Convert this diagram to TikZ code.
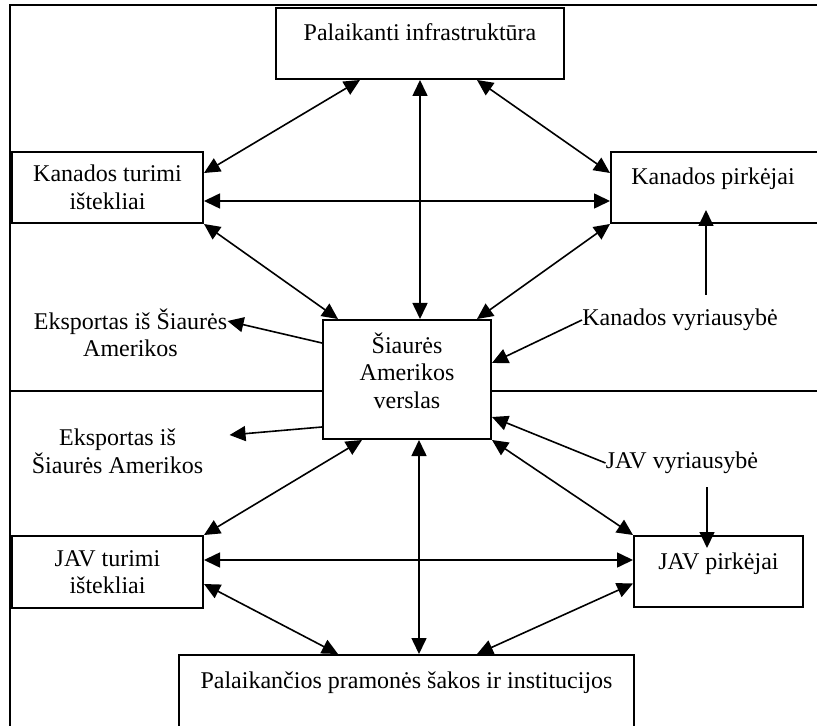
\documentclass[tikz,border=0pt]{standalone}
\usepackage{fontspec}
\setmainfont{Liberation Serif}
\usetikzlibrary{arrows.meta}

\begin{document}
\begin{tikzpicture}[
    x=0.5pt, y=-0.5pt,
    font=\fontsize{12}{13.8}\selectfont,
    kaste/.style={draw=black, line width=1pt, fill=white, inner sep=0pt, anchor=north west},
    vienaeil/.style={kaste, text height=16.5pt, text depth=19pt},
    tekstas/.style={inner sep=0pt, align=center},
    dvipus/.style={line width=0.8pt, {Triangle[length=8pt,width=7.5pt]}-{Triangle[length=8pt,width=7.5pt]}},
    vienpus/.style={line width=0.8pt, -{Triangle[length=8pt,width=7.5pt]}}
]
    \useasboundingbox (0,0) rectangle (817,726);
    \clip (0,0) rectangle (817,726);
    % remelis ir skiriamoji linija
    \draw[line width=0.7pt] (10,5) rectangle (840,760);
    \draw[line width=1pt] (10,391) -- (840,391);

    \node[vienaeil, minimum width=144pt] (infra) at (275,7) {Palaikanti infrastruktūra};
    \node[kaste, align=center, minimum width=95.5pt, minimum height=35.5pt] (kanturimi) at (11,151) {Kanados turimi\\ištekliai};
    \node[vienaeil, minimum width=110pt] (kanpirk) at (610,151) {Kanados pirkėjai\hspace*{8pt}};
    \node[vienaeil, text depth=43pt, minimum width=84pt] (verslas) at (322,319)
        {\begin{tabular}[t]{@{}c@{}}Šiaurės\\Amerikos\\verslas\end{tabular}};
    \node[kaste, align=center, minimum width=95.5pt, minimum height=36pt] (javturimi) at (11,535) {JAV turimi\\ištekliai};
    \node[vienaeil, minimum width=84.5pt] (javpirk) at (633,535) {JAV pirkėjai};
    \node[vienaeil, minimum width=227.5pt, text depth=30pt] (pramone) at (178,654) {Palaikančios pramonės šakos ir institucijos};

    \node[tekstas] (eksp1) at (130.5,333) {Eksportas iš Šiaurės\\Amerikos};
    \node[tekstas] (eksp2) at (117.5,451) {Eksportas iš\\Šiaurės Amerikos};
    \node[tekstas] (kanvyr) at (680,320) {Kanados vyriausybė};
    \node[tekstas] (javvyr) at (682,463) {JAV vyriausybė};

    % abipusiai ryšiai
    \draw[dvipus] ([xshift=42.5pt]infra.south west) -- ([yshift=-11pt]kanturimi.north east);
    \draw[dvipus] ([xshift=-44pt]infra.south east) -- ([yshift=-11pt]kanpirk.north west);
    \draw[dvipus] (infra.south) -- (infra.south |- verslas.north);
    \draw[dvipus] ([yshift=-6.75pt]kanturimi.east) -- ([yshift=-6.75pt]kanturimi.east -| kanpirk.west);
    \draw[dvipus] (kanturimi.south east) -- ([xshift=8pt]verslas.north west);
    \draw[dvipus] (kanpirk.south west) -- ([xshift=-7.5pt]verslas.north east);
    \draw[dvipus] ([xshift=20pt]verslas.south west) -- (javturimi.north east);
    \draw[dvipus] (verslas.south east) -- (javpirk.north west);
    \draw[dvipus] ([xshift=6pt]verslas.south) -- ([xshift=6pt]verslas.south |- pramone.north);
    \draw[dvipus] ([yshift=6pt]javturimi.east) -- ([yshift=6pt]javturimi.east -| javpirk.west);
    \draw[dvipus] ([yshift=-6pt]javturimi.east) -- ([xshift=80pt]pramone.north west);
    \draw[dvipus] ([yshift=-6pt]javpirk.west) -- ([xshift=-79pt]pramone.north east);

    % vienkrypčiai ryšiai
    \draw[vienpus] ([yshift=-12pt]verslas.north west) -- ([yshift=6pt]eksp1.east);
    \draw[vienpus] ([yshift=6.5pt]verslas.south west) -- ([xshift=13pt,yshift=8pt]eksp2.east);
    \draw[vienpus] (kanvyr.west) -- ([yshift=-22pt]verslas.north east);
    \draw[vienpus] ([xshift=13pt,yshift=7pt]kanvyr.north) -- ([xshift=13pt,yshift=7pt]kanvyr.north |- kanpirk.south);
    \draw[vienpus] (javvyr.west) -- ([yshift=11.5pt]verslas.south east);
    \draw[vienpus] ([xshift=12.5pt,yshift=-6.5pt]javvyr.south) -- ([xshift=12.5pt,yshift=-6.5pt]javvyr.south |- javpirk.north);
\end{tikzpicture}
\end{document}
